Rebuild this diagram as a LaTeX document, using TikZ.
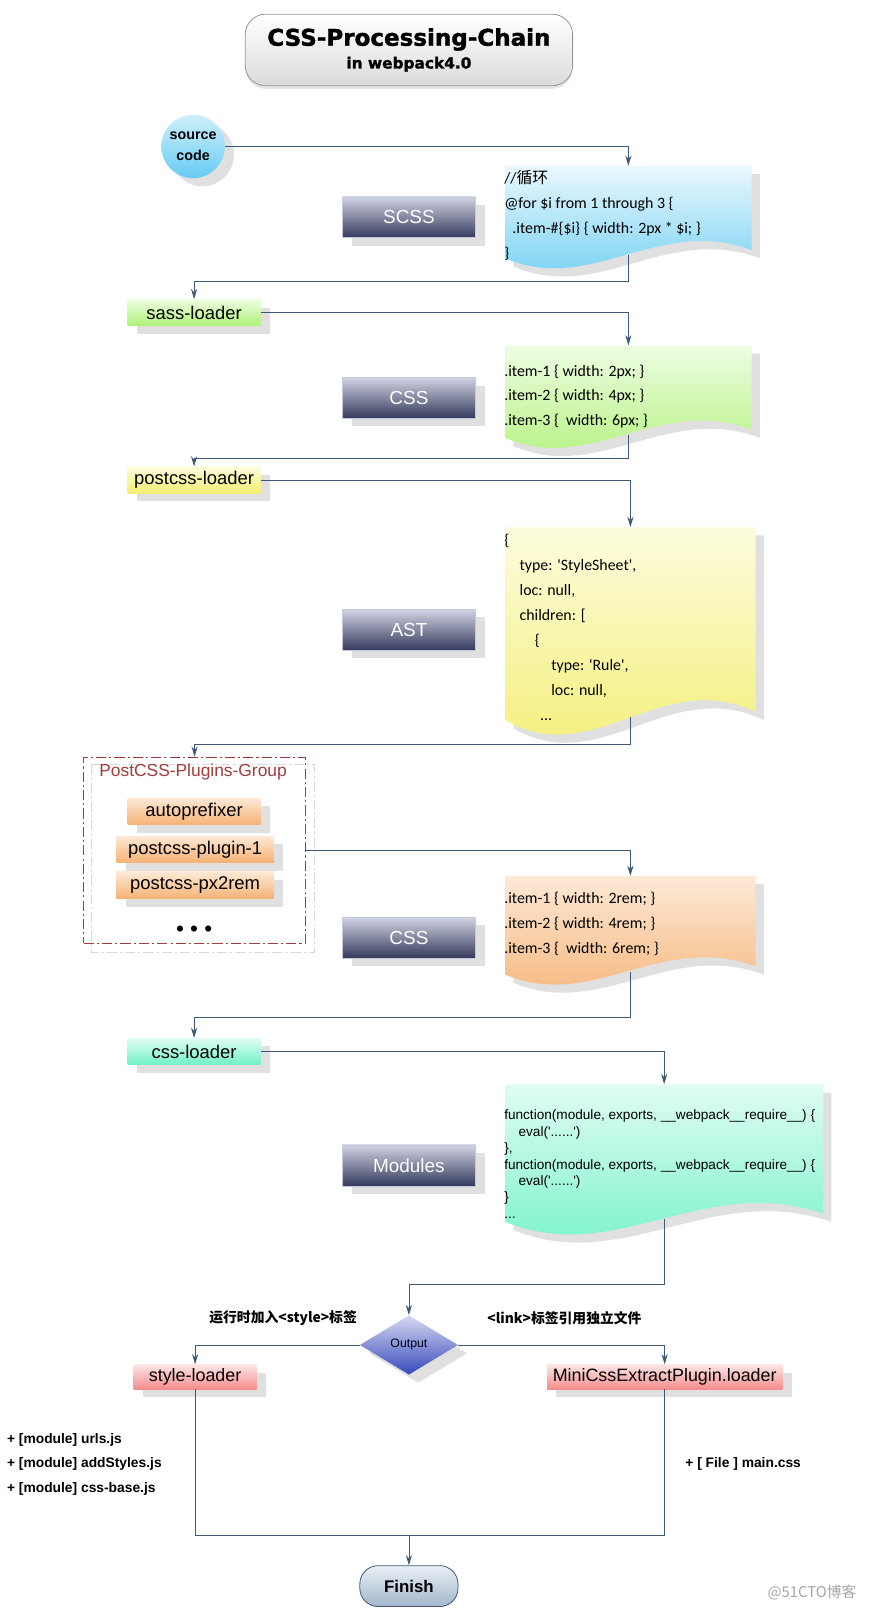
\documentclass[tikz,border=0pt]{standalone}
\usepackage{fontspec}
\setmainfont{Liberation Sans}
\newfontfamily\codefont{Carlito}
\newfontfamily\cjk{Noto Sans CJK SC}
\newfontfamily\headfont{DejaVu Sans}[BoldFeatures={FakeBold=1.5}]
\usetikzlibrary{shapes.geometric, arrows.meta, shadows, fit}

\definecolor{linkblue}{HTML}{3E5A74}
\definecolor{tagtop}{HTML}{D2D4E4}
\definecolor{tagbot}{HTML}{343A5C}
\definecolor{tagedge}{HTML}{C4C8DC}
\definecolor{cyantop}{HTML}{EAF8FD}
\definecolor{cyanbot}{HTML}{66CCF2}
\definecolor{greentop}{HTML}{EEFDE2}
\definecolor{greenbot}{HTML}{AEF176}
\definecolor{yellowtop}{HTML}{FCFCDE}
\definecolor{yellowbot}{HTML}{F4EE72}
\definecolor{orangetop}{HTML}{FDE9D6}
\definecolor{orangebot}{HTML}{F5B274}
\definecolor{minttop}{HTML}{E0FCF3}
\definecolor{mintbot}{HTML}{70F2C9}
\definecolor{pinktop}{HTML}{FDE6E6}
\definecolor{pinkbot}{HTML}{F58D8D}
\definecolor{groupred}{HTML}{A03C3C}
\definecolor{outtop}{HTML}{D6DAF3}
\definecolor{outbot}{HTML}{3849BA}
\definecolor{endtop}{HTML}{EAF0F6}
\definecolor{endbot}{HTML}{A2B6CB}
\definecolor{endedge}{HTML}{40587A}

\tikzstyle{shadowed} = [drop shadow={shadow xshift=9pt, shadow yshift=-8pt, fill=black!12, opacity=1}]
\tikzstyle{titlebox} = [rectangle, rounded corners=20pt, minimum width=320pt, minimum height=70pt, top color=white, bottom color=black!14, draw=black!40, line width=0.8pt, align=center, font=\headfont\bfseries, drop shadow={shadow xshift=0pt, shadow yshift=-3pt, fill=black!10, opacity=1}]
\tikzstyle{startcircle} = [circle, minimum size=62pt, inner sep=0pt, top color=cyantop!80!cyanbot, bottom color=cyanbot, align=center, font=\bfseries\fontsize{14}{21}\selectfont, shadowed]
\tikzstyle{tag} = [rectangle, minimum width=130pt, minimum height=40pt, top color=tagtop, bottom color=tagbot, draw=tagedge, line width=0.5pt, text=white, font=\fontsize{18.5}{20}\selectfont, shadowed]
\tikzstyle{loader} = [rectangle, minimum width=130pt, minimum height=26pt, inner sep=0pt, font=\fontsize{18}{20}\selectfont, shadowed]
\tikzstyle{plugin} = [loader, top color=orangetop, bottom color=orangebot]
\tikzstyle{code} = [anchor=north west, inner sep=0pt, align=left, font=\codefont\fontsize{15.5}{24.4}\selectfont]
\tikzstyle{group} = [rectangle, draw=groupred, line width=1pt, dash pattern=on 10pt off 3pt on 2pt off 3pt]
\tikzstyle{groupshadow} = [draw=black!15, line width=1pt, dash pattern=on 10pt off 3pt on 2pt off 3pt]
\tikzstyle{decision} = [diamond, minimum width=96pt, minimum height=58pt, inner sep=0pt, top color=outtop, bottom color=outbot, font=\fontsize{12}{14}\selectfont, text=black!90!blue, shadowed]
\tikzstyle{startend} = [rectangle, rounded corners=18pt, minimum width=96pt, minimum height=40pt, top color=endtop, bottom color=endbot, draw=endedge, line width=0.8pt, font=\bfseries\fontsize{16.5}{18}\selectfont]
\tikzstyle{note} = [anchor=west, inner sep=0pt, align=left, font=\bfseries\fontsize{13.5}{24}\selectfont]
\tikzstyle{branch} = [font=\cjk\bfseries\fontsize{13.5}{16}\selectfont]
\tikzstyle{arrow} = [draw=linkblue, line width=0.8pt, -{Stealth[length=10pt, width=6pt]}]
\tikzstyle{link} = [draw=linkblue, line width=0.8pt]

% document shape with a wavy lower edge: left, top, right, bottom, dip, rise
\newcommand{\wavepath}[6]{(#1,#2) -- (#3,#2) -- (#3,#4-8) .. controls ({#1+0.62*(#3-#1)},#4-#6) and ({#1+0.35*(#3-#1)},#4+#5) .. (#1,#4) -- cycle}
\newcommand{\codedoc}[9]{%
  \fill[black!12, shift={(8,8)}] \wavepath{#2}{#3}{#4}{#5}{#8}{#9};
  \shade[top color=#6, bottom color=#7] \wavepath{#2}{#3}{#4}{#5}{#8}{#9};
  \node (#1) [inner sep=0pt, fit={(#2,#3) (#4,#5)}] {};}

\begin{document}
\begin{tikzpicture}[x=1pt, y=-1.003pt]
\useasboundingbox (-1.7pt,1.7pt) rectangle (849.8pt,-1572pt);

% Title
\node (title) [titlebox] at (398,47) {\fontsize{22.5}{24}\selectfont CSS-Processing-Chain\\[5pt]\fontsize{15}{17}\selectfont in webpack4.0};

% Source
\node (source) [startcircle] at (187,141) {source\\code};

% SCSS
\codedoc{scss}{492}{160}{733}{250}{cyantop}{cyanbot}{36}{42}
\node (scsscode) [code] at (491,159.6) {\strut//{\cjk 循环}\\@for \$i from 1 through 3 \{\\\hspace*{8pt}.item-\#\{\$i\} \{ width: 2px * \$i; \}\\\}};
\node (scsstag) [tag] at (398,210) {SCSS};

\node (sass) [loader, top color=greentop, bottom color=greenbot] at (188,303) {sass-loader};

% CSS
\codedoc{css}{492}{335}{733}{425}{greentop}{greenbot}{36}{42}
\node (csscode) [code] at (491,347.5) {\strut.item-1 \{ width: 2px; \}\\.item-2 \{ width: 4px; \}\\.item-3 \{\ \ width: 6px; \}};
\node (csstag) [tag] at (398,386) {CSS};

\node (postcss) [loader, top color=yellowtop, bottom color=yellowbot] at (188,466) {postcss-loader};

% AST
\codedoc{ast}{492}{512}{737}{700}{yellowtop}{yellowbot}{50}{52}
\node (astcode) [code] at (491,512.5) {\strut\{\\\hspace*{15pt}type: \textquotesingle StyleSheet\textquotesingle,\\\hspace*{15pt}loc: null,\\\hspace*{15pt}children: [\\\hspace*{30pt}\{\\\hspace*{46pt}type: \textquotesingle Rule\textquotesingle,\\\hspace*{46pt}loc: null,\\\hspace*{35pt}...};
\node (asttag) [tag] at (398,612) {AST};

% PostCSS plugins
\node (plugins) [group, minimum width=217pt, minimum height=182pt] at (188.5,827) {};
\draw [groupshadow] ([shift={(8,8)}]plugins.north west) rectangle ([shift={(8,8)}]plugins.south east);
\node (grouptitle) [text=groupred, font=\fontsize{17}{19}\selectfont] at (187,751) {PostCSS-Plugins-Group};
\node (autoprefixer) [plugin] at (188,789) {autoprefixer};
\node (plugin1) [plugin, minimum width=154pt] at (189,826) {postcss-plugin-1};
\node (px2rem) [plugin, minimum width=154pt] at (189,861) {postcss-px2rem};
\node (more) [font=\fontsize{22}{24}\selectfont] at (188,906) {• • •};

% CSS in rem
\codedoc{cssrem}{492}{852}{737}{948}{orangetop}{orangebot}{36}{42}
\node (cssremcode) [code] at (491,861.5) {\strut.item-1 \{ width: 2rem; \}\\.item-2 \{ width: 4rem; \}\\.item-3 \{\ \ width: 6rem; \}};
\node (cssremtag) [tag] at (398,912) {CSS};

\node (cssloader) [loader, top color=minttop, bottom color=mintbot] at (188,1023) {css-loader};

% Modules
\codedoc{modules}{492}{1055}{803}{1189}{minttop}{mintbot}{44}{48}
\node (modulescode) [code, font=\fontsize{13.3}{16}\selectfont] at (491,1078.3) {\strut function(module, exports, \_\_webpack\_\_require\_\_) \{\\\hspace*{14pt}eval(\textquotesingle......\textquotesingle)\\\},\\function(module, exports, \_\_webpack\_\_require\_\_) \{\\\hspace*{14pt}eval(\textquotesingle......\textquotesingle)\\\}\\...};
\node (modulestag) [tag] at (398,1134) {Modules};

% Output
\node (output) [decision] at (398,1309) {Output};
\node (inline) [branch] at (275,1283) {运行时加入<style>标签};
\node (linkfile) [branch] at (550,1283) {<link>标签引用独立文件};

\node (styleloader) [loader, top color=pinktop, bottom color=pinkbot, minimum width=120pt, minimum height=24pt, font=\fontsize{17.5}{19}\selectfont] at (189,1340) {style-loader};
\node (miniextract) [loader, top color=pinktop, bottom color=pinkbot, minimum width=230pt, minimum height=24pt, font=\fontsize{17.5}{19}\selectfont] at (648,1340) {MiniCssExtractPlugin.loader};

\node (stylefiles) [note] at (5,1425) {+ [module] urls.js\\+ [module] addStyles.js\\+ [module] css-base.js};
\node (mainfile) [note] at (668,1425) {+ [ File ] main.css};

% End
\coordinate (join) at (398,1495);
\node (finish) [startend] at (398,1544) {Finish};
\node (mark) [text=black!35, font=\cjk\fontsize{14.5}{16}\selectfont] at (792,1550) {@51CTO博客};

% Connecting arrows
\draw [arrow] (source.east) -| (scss.north);
\draw [arrow] ([yshift=3pt]scss.south) |- ([yshift=17pt]sass.north) -- (sass.north);
\draw [arrow] (sass.east) -| (css.north);
\draw [arrow] ([yshift=3pt]css.south) |- ([yshift=8pt]postcss.north) -- (postcss.north);
\draw [arrow] (postcss.east) -| (ast.north);
\draw [arrow] ([yshift=3pt]ast.south) |- ([yshift=12pt]plugins.north) -- (plugins.north);
\draw [arrow] (plugins.east) -| (cssrem.north);
\draw [arrow] ([yshift=3pt]cssrem.south) |- ([yshift=20pt]cssloader.north) -- (cssloader.north);
\draw [arrow] (cssloader.east) -| (modules.north);
\draw [arrow] ([yshift=3pt]modules.south) |- ([yshift=30pt]output.north) -- (output.north);
\draw [arrow] (output.west) -| (styleloader.north);
\draw [arrow] (output.east) -| (miniextract.north);
\draw [link] (styleloader.south) |- (join) -| (miniextract.south);
\draw [arrow] (join) -- (finish.north);

\end{tikzpicture}
\end{document}
